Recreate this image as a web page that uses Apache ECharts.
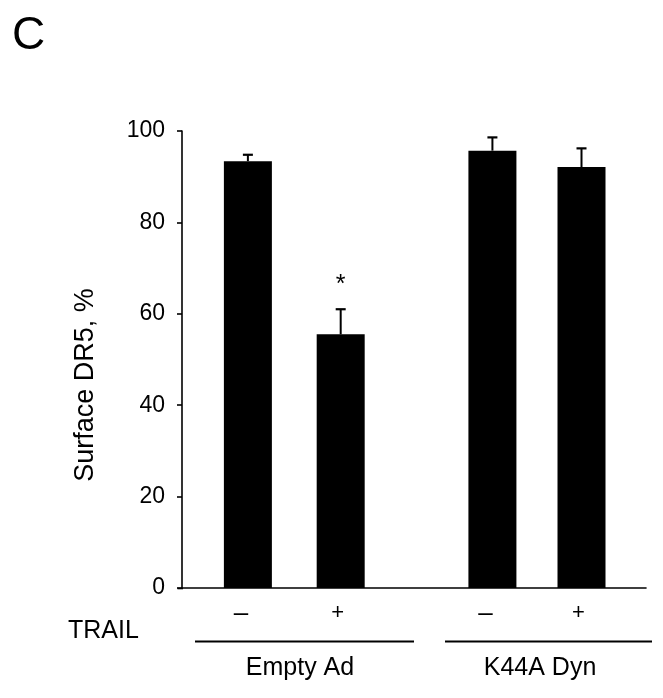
<!DOCTYPE html>
<html>
<head>
<meta charset="utf-8">
<script src="https://cdn.jsdelivr.net/npm/echarts@6/dist/echarts.min.js"></script>
<style>
  html, body { margin: 0; padding: 0; background: #fff; }
  #chart { width: 663px; height: 698px; }
</style>
</head>
<body>
<div id="chart"></div>
<script>
// ---- Data ----
const groups = ['Empty Ad', 'K44A Dyn'];
const trailSigns = ['\u2013', '+', '\u2013', '+'];
const xSlots = [1.42, 3.42, 6.69, 8.61];        // bar slot positions on the x scale
const surfaceDR5 = [93.4, 55.5, 95.7, 92.1];     // mean %
const errorUp = [1.4, 5.5, 2.9, 4.1];            // upper error (SD/SEM)
const significance = ['', '*', '', ''];
const yTicks = [0, 20, 40, 60, 80, 100];

const FONT = 'Liberation Sans, Arial, sans-serif';
const chart = echarts.init(document.getElementById('chart'), null, { renderer: 'canvas' });

const option = {
  backgroundColor: '#ffffff',
  animation: false,
  grid: { left: 182, right: 17, top: 131, bottom: 110, containLabel: false },
  xAxis: {
    type: 'value', min: 0, max: 10,
    axisLine: { show: true, onZero: true, lineStyle: { color: '#000', width: 1.6 } },
    axisTick: { show: false }, axisLabel: { show: false }, splitLine: { show: false }
  },
  yAxis: {
    type: 'value', min: yTicks[0], max: yTicks[yTicks.length - 1], interval: 20,
    axisLine: { show: true, lineStyle: { color: '#000', width: 1.6 } },
    axisTick: { show: true, length: 5, inside: false, lineStyle: { color: '#000', width: 1.6 } },
    axisLabel: { color: '#000', fontSize: 23, fontFamily: FONT, margin: 17 },
    splitLine: { show: false }
  },
  series: [
    {
      type: 'bar',
      barWidth: 48,
      itemStyle: { color: '#000' },
      data: xSlots.map((x, i) => [x, surfaceDR5[i]]),
      z: 2
    },
    {
      type: 'custom',
      data: xSlots.map((x, i) => [x, surfaceDR5[i], errorUp[i]]),
      renderItem: function (params, api) {
        const x = api.value(0), y = api.value(1), e = api.value(2);
        const p0 = api.coord([x, y]);
        const p1 = api.coord([x, y + e]);
        const base = api.coord([x, 0]);
        const idx = params.dataIndex;
        const isPlus = trailSigns[idx] === '+';
        const children = [
          { type: 'line', shape: { x1: p0[0], y1: p0[1], x2: p1[0], y2: p1[1] },
            style: { stroke: '#000', lineWidth: 2 } },
          { type: 'line', shape: { x1: p1[0] - 5, y1: p1[1], x2: p1[0] + 5, y2: p1[1] },
            style: { stroke: '#000', lineWidth: 2.2 } },
          { type: 'text', x: base[0] + (isPlus ? -3 : -7), y: base[1] + (isPlus ? 25 : 26),
            style: { text: trailSigns[idx], fill: '#000', fontSize: isPlus ? 22 : 26, fontFamily: FONT,
                     align: 'center', verticalAlign: 'middle' } }
        ];
        if (significance[idx]) {
          children.push({ type: 'text', x: p1[0], y: p1[1] - 24,
            style: { text: significance[idx], fill: '#000', fontSize: 25, fontFamily: FONT,
                     align: 'center', verticalAlign: 'middle' } });
        }
        return { type: 'group', children: children };
      },
      z: 3
    }
  ],
  graphic: [
    { type: 'text', left: 12, top: 13, style: { text: 'C', fontSize: 46, fontFamily: FONT, fill: '#000' } },
    { type: 'text', x: 86, y: 385, rotation: Math.PI / 2,
      style: { text: 'Surface DR5, %', fontSize: 27, fontFamily: FONT, fill: '#000',
               align: 'center', verticalAlign: 'middle' } },
    { type: 'line', shape: { x1: 177.5, y1: 588.5, x2: 183, y2: 588.5 }, style: { stroke: '#000', lineWidth: 1.6 } },
    { type: 'text', x: 68, y: 631, style: { text: 'TRAIL', fontSize: 25, fontFamily: FONT, fill: '#000',
               align: 'left', verticalAlign: 'middle' } },
    { type: 'line', shape: { x1: 195, y1: 641.5, x2: 414, y2: 641.5 }, style: { stroke: '#000', lineWidth: 2 } },
    { type: 'line', shape: { x1: 445, y1: 641.5, x2: 652, y2: 641.5 }, style: { stroke: '#000', lineWidth: 2 } },
    { type: 'text', x: 300, y: 668, style: { text: groups[0], fontSize: 25, fontFamily: FONT, fill: '#000',
               align: 'center', verticalAlign: 'middle' } },
    { type: 'text', x: 540, y: 668, style: { text: groups[1], fontSize: 25, fontFamily: FONT, fill: '#000',
               align: 'center', verticalAlign: 'middle' } }
  ]
};
chart.setOption(option);
</script>
</body>
</html>
